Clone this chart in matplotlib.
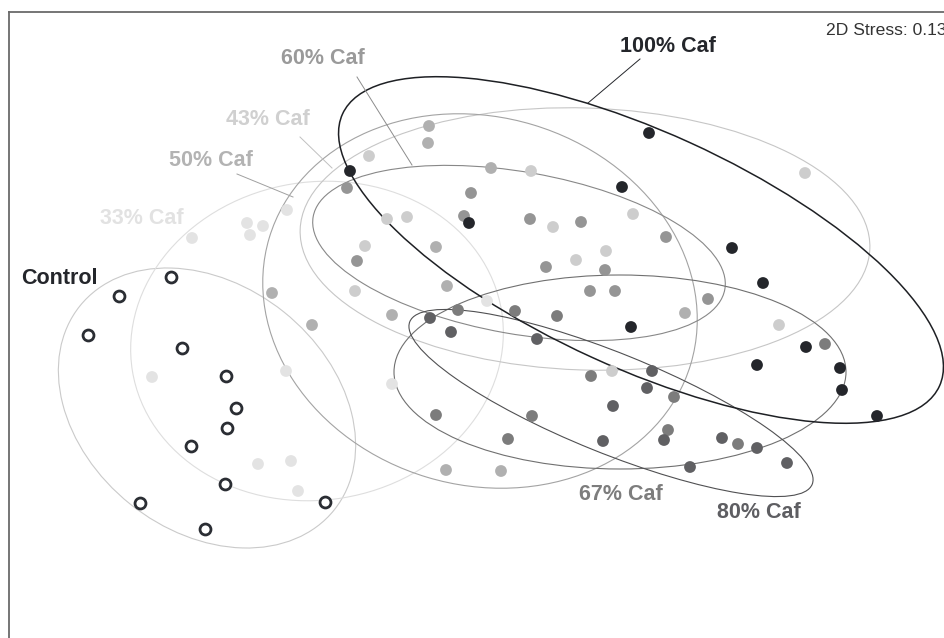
import matplotlib
matplotlib.use("Agg")
import matplotlib.pyplot as plt
from matplotlib.patches import Ellipse

plt.rcParams['font.family'] = ['Liberation Sans', 'DejaVu Sans']

# ---- data (MDS coordinates, screen-oriented) ----
groups = ["Control", "33% Caf", "43% Caf", "50% Caf", "60% Caf", "67% Caf", "80% Caf", "100% Caf"]

control_x = [171, 119, 88, 182, 226, 236, 227, 191, 225, 140, 325, 205]
control_y = [277, 296, 335, 348, 376, 408, 428, 446, 484, 503, 502, 529]

caf33_x = [192, 247, 263, 250, 287, 152, 286, 258, 291, 298, 392, 487]
caf33_y = [238, 223, 226, 235, 210, 377, 371, 464, 461, 491, 384, 301]

caf43_x = [369, 387, 407, 365, 355, 531, 553, 633, 606, 576, 805, 779, 612]
caf43_y = [156, 219, 217, 246, 291, 171, 227, 214, 251, 260, 173, 325, 371]

caf50_x = [429, 428, 491, 436, 447, 272, 312, 392, 446, 501, 685]
caf50_y = [126, 143, 168, 247, 286, 293, 325, 315, 470, 471, 313]

caf60_x = [347, 357, 471, 464, 530, 581, 546, 605, 590, 615, 666, 708]
caf60_y = [188, 261, 193, 216, 219, 222, 267, 270, 291, 291, 237, 299]

caf67_x = [458, 515, 557, 591, 436, 532, 508, 674, 668, 738, 825]
caf67_y = [310, 311, 316, 376, 415, 416, 439, 397, 430, 444, 344]

caf80_x = [430, 451, 537, 652, 647, 613, 603, 664, 722, 757, 690, 787]
caf80_y = [318, 332, 339, 371, 388, 406, 441, 440, 438, 448, 467, 463]

caf100_x = [350, 649, 622, 469, 732, 763, 631, 806, 757, 840, 842, 877]
caf100_y = [171, 133, 187, 223, 248, 283, 327, 347, 365, 368, 390, 416]

# group ellipses: centre, semi-axes, rotation (deg)
ell_cx = [207, 317, 585, 480, 519, 620, 611, 641]
ell_cy = [408, 341, 239, 301, 253, 372, 403, 250]
ell_a = [163, 187, 285, 220, 209, 226, 217, 328]
ell_b = [123, 159, 131, 184, 81, 97, 50, 118]
ell_ang = [38.7, -9.2, 1.9, 16.7, 10.0, 0.0, 22.0, 24.5]

# labels and leader lines
label_x = [59, 142, 268, 211, 323, 621, 759, 668]
label_y = [278, 218, 119, 160, 58, 494, 513, 46]
leader_from = [None, None, (300, 137), (237, 174), (357, 77), None, None, (640, 59)]
leader_to = [None, None, (332, 168), (293, 197), (412, 165), None, None, (588, 103)]

stress_text = "2D Stress: 0.13"

# ---- style ----
point_colors = ["#2a2d33", "#e3e3e3", "#cdcdcd", "#b0b0b0", "#959595", "#7c7c7c", "#606063", "#24262b"]
ell_colors = ["#cacaca", "#dedede", "#c6c6c6", "#a3a3a3", "#888888", "#707070", "#505052", "#1e2024"]
ell_lw = [0.8, 0.8, 0.8, 0.8, 0.8, 0.8, 0.8, 1.1]
label_colors = ["#24262b", "#e2e2e2", "#d0d0d0", "#b3b3b3", "#9a9a9a", "#7d7d7d", "#5e5e62", "#24262b"]
leader_colors = [None, None, "#c0c0c0", "#a0a0a0", "#8c8c8c", None, None, "#24262b"]

W_FIG, H_FIG = 945, 638
fig = plt.figure(figsize=(W_FIG / 100, H_FIG / 100), dpi=100)
left_px, top_px = 9.5, 11.5
ax_w, ax_h = 1100, 700
ax = fig.add_axes([left_px / W_FIG, 1 - (top_px + ax_h) / H_FIG, ax_w / W_FIG, ax_h / H_FIG])
ax.set_xlim(left_px, left_px + ax_w)
ax.set_ylim(top_px + ax_h, top_px)
ax.set_xticks([])
ax.set_yticks([])
for s in ax.spines.values():
    s.set_color("#6a6a6a")
    s.set_linewidth(1.3)

for cx, cy, a, b, ang, c, lw in zip(ell_cx, ell_cy, ell_a, ell_b, ell_ang, ell_colors, ell_lw):
    ax.add_patch(Ellipse((cx, cy), 2 * a, 2 * b, angle=ang, fill=False,
                         edgecolor=c, linewidth=lw, zorder=2))

xs = [control_x, caf33_x, caf43_x, caf50_x, caf60_x, caf67_x, caf80_x, caf100_x]
ys = [control_y, caf33_y, caf43_y, caf50_y, caf60_y, caf67_y, caf80_y, caf100_y]
for i, (x, y) in enumerate(zip(xs, ys)):
    if i == 0:
        ax.scatter(x, y, s=62, facecolors="white", edgecolors=point_colors[i],
                   linewidths=2.0, zorder=4)
    else:
        ax.scatter(x, y, s=72, color=point_colors[i], edgecolors="none", zorder=3)

for i, g in enumerate(groups):
    ax.text(label_x[i], label_y[i], g, ha="center", va="center", fontsize=15.5,
            fontweight="bold", color=label_colors[i], zorder=5)
    if leader_from[i] is not None:
        (x0, y0), (x1, y1) = leader_from[i], leader_to[i]
        ax.plot([x0, x1], [y0, y1], color=leader_colors[i], lw=0.7, zorder=2)

ax.text(826, 30, stress_text, ha="left", va="center", fontsize=12.6, color="#333333")

fig.savefig("out.png", dpi=100)
